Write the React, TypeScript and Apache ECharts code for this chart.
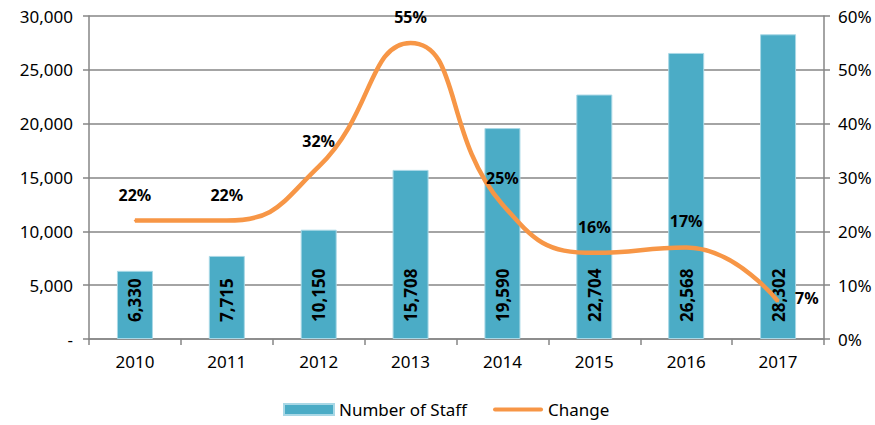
import React, { useEffect, useRef } from "react";
import * as echarts from "echarts";

const categories = ["2010", "2011", "2012", "2013", "2014", "2015", "2016", "2017"];
const staff = [6330, 7715, 10150, 15708, 19590, 22704, 26568, 28302];
const change = [0.22, 0.22, 0.32, 0.55, 0.25, 0.16, 0.17, 0.07];

const FONT = "'Noto Sans', sans-serif";

export default function App() {
  const ref = useRef<HTMLDivElement>(null);
  useEffect(() => {
    document.body.style.margin = "0";
    const chart = echarts.init(ref.current!, null, { renderer: "svg" });
    chart.setOption({
      animation: false,
      textStyle: { fontFamily: FONT },
      grid: { left: 89, right: 51, top: 16, bottom: 86, containLabel: false },
      legend: {
        bottom: 2,
        left: 278,
        itemGap: 26,
        itemWidth: 50,
        itemHeight: 11,
        textStyle: { fontSize: 17, color: "#000", fontFamily: FONT },
        data: [
          { name: "Number of Staff", icon: "rect" },
          {
            name: "Change",
            icon: "path://M2,0 L50,0 A2,2 0 0 1 50,4 L2,4 A2,2 0 0 1 2,0 Z",
            itemStyle: { color: "#F79646", opacity: 1 },
          },
        ],
      },
      xAxis: {
        type: "category",
        data: categories,
        axisLine: { lineStyle: { color: "#868686", width: 1.5 } },
        axisTick: { show: true, length: 6, lineStyle: { color: "#868686", width: 1.5 } },
        axisLabel: { fontSize: 17, color: "#000", margin: 14, fontFamily: FONT },
      },
      yAxis: [
        {
          type: "value",
          min: 0,
          max: 30000,
          interval: 5000,
          axisLine: { show: true, lineStyle: { color: "#868686", width: 1.5 } },
          axisTick: { show: true, length: 6, lineStyle: { color: "#868686", width: 1.5 } },
          splitLine: { lineStyle: { color: "#868686", width: 1.5 } },
          axisLabel: {
            fontSize: 17,
            color: "#000",
            margin: 16,
            fontFamily: FONT,
            formatter: (v: number) => (v === 0 ? "-" : v.toLocaleString("en-US")),
          },
        },
        {
          type: "value",
          min: 0,
          max: 0.6,
          interval: 0.1,
          axisLine: { show: true, lineStyle: { color: "#868686", width: 1.5 } },
          axisTick: { show: true, length: 6, lineStyle: { color: "#868686", width: 1.5 } },
          splitLine: { show: false },
          axisLabel: {
            fontSize: 17,
            color: "#000",
            margin: 14,
            fontFamily: FONT,
            formatter: (v: number) => Math.round(v * 100) + "%",
          },
        },
      ],
      series: [
        {
          name: "Number of Staff",
          type: "bar",
          data: staff,
          barWidth: 36,
          itemStyle: { color: "#4BACC6", borderColor: "#A9D8E6", borderWidth: 1 },
          label: {
            show: true,
            position: "insideBottom",
            rotate: 90,
            align: "left",
            verticalAlign: "middle",
            distance: 17,
            fontSize: 17,
            fontWeight: "bold",
            color: "#000",
            fontFamily: FONT,
            formatter: (p: any) => Number(p.value).toLocaleString("en-US"),
          },
        },
        {
          name: "Change",
          type: "line",
          yAxisIndex: 1,
          data: change.map((v, i) =>
            i === change.length - 1
              ? { value: v, label: { position: "right", distance: 16, offset: [0, -3] } }
              : v
          ),
          smooth: 0.5,
          symbol: "circle",
          symbolSize: 2,
          showSymbol: true,
          lineStyle: { color: "#F79646", width: 4.5 },
          itemStyle: { color: "#F79646" },
          label: {
            show: true,
            position: "top",
            distance: 17,
            fontSize: 16,
            fontWeight: "bold",
            color: "#000",
            fontFamily: FONT,
            formatter: (p: any) => Math.round(p.value * 100) + "%",
          },
          z: 3,
        },
      ],
    });
    return () => chart.dispose();
  }, []);
  return <div ref={ref} style={{ width: 875, height: 425 }} />;
}
